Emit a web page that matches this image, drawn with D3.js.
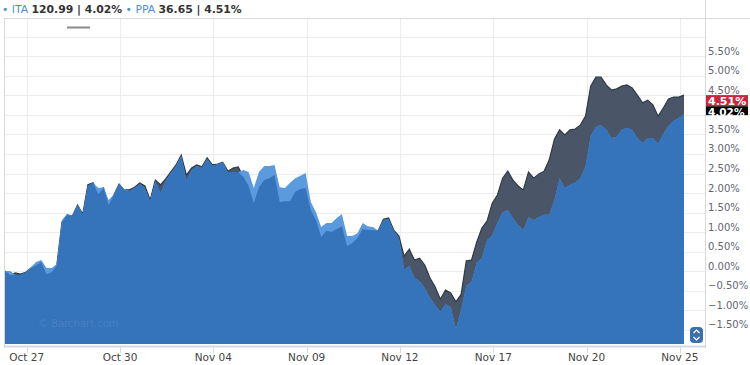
<!DOCTYPE html>
<html><head><meta charset="utf-8">
<script src="https://cdn.jsdelivr.net/npm/d3@7"></script>
<style>body{margin:0;background:#fff;} svg{display:block;font-family:"DejaVu Sans",Verdana,sans-serif;}</style>
</head><body><svg id="c" width="750" height="365"></svg>
<script>
// ---- data ----
const startDay = -0.7;      // trading-day index of first sample (Oct 27 = 0)
const stepDay = 1 / 6;      // sample spacing in trading days
const itaPct = [0.00,0.00,-0.10,-0.10,-0.03,0.10,0.23,0.28,0.08,0.08,
  0.18,1.31,1.46,1.41,1.69,1.46,2.18,2.26,2.13,2.15,
  1.82,1.97,2.23,2.10,2.05,2.13,2.23,2.13,1.79,2.31,
  2.00,2.31,2.51,2.69,2.95,2.33,2.59,2.69,2.64,2.87,
  2.69,2.74,2.79,2.54,2.54,2.54,2.59,2.54,2.13,2.54,
  2.69,2.69,2.72,2.15,2.13,2.26,2.38,2.44,2.51,1.77,
  1.51,1.13,1.23,1.23,1.36,1.46,0.90,0.90,0.97,1.23,
  1.15,1.13,1.03,1.31,1.33,1.03,0.85,0.03,0.13,-0.18,
  -0.26,-0.44,-0.69,-0.87,-1.05,-0.85,-0.92,-1.48,-1.00,-0.38,
  -0.28,0.21,0.33,0.79,0.92,1.23,1.51,1.56,1.36,1.18,
  1.05,1.38,1.31,1.38,1.44,1.44,1.82,2.38,2.13,2.21,
  2.26,2.38,2.67,3.46,3.69,3.74,3.62,3.41,3.44,3.62,
  3.67,3.62,3.41,3.28,3.41,3.41,3.26,3.51,3.72,3.85,
  3.92,4.02];
const ppaPct = [0.00,-0.10,-0.05,-0.08,-0.03,0.08,0.15,0.23,-0.08,-0.03,
  0.15,1.26,1.44,1.41,1.69,1.46,2.21,2.26,1.97,2.13,
  1.69,1.95,2.23,2.08,2.08,2.15,2.26,2.18,1.82,2.33,
  2.21,2.36,2.54,2.72,2.97,2.46,2.64,2.72,2.67,2.90,
  2.72,2.74,2.79,2.56,2.64,2.67,2.41,2.18,1.74,2.15,
  2.33,2.38,2.46,1.77,1.79,1.79,2.03,2.10,2.13,1.56,
  1.31,0.87,1.03,1.00,1.08,1.15,0.64,0.72,0.85,1.08,
  1.05,1.05,1.03,1.33,1.36,1.05,0.90,0.38,0.56,0.28,
  0.33,0.15,-0.18,-0.41,-0.72,-0.49,-0.56,-0.79,-0.60,0.26,
  0.28,0.74,1.10,1.28,1.74,1.95,2.38,2.56,2.33,2.18,
  2.08,2.54,2.38,2.49,2.56,2.85,3.38,3.62,3.49,3.62,
  3.64,3.74,3.97,4.74,4.97,4.97,4.77,4.64,4.67,4.74,
  4.77,4.69,4.51,4.31,4.38,4.26,3.97,4.18,4.41,4.46,
  4.46,4.51];
const tickDays = [0, 3, 6, 9, 12, 15, 18, 21];
const tickLabels = ["Oct 27","Oct 30","Nov 04","Nov 09","Nov 12","Nov 17","Nov 20","Nov 25"];
const yLabelTicks = [-1.5,-1,-0.5,0,0.5,1,1.5,2,2.5,3,3.5,4.5,5,5.5];
const yGridTicks = [-1.5,-1,-0.5,0,0.5,1,1.5,2,2.5,3,3.5,4,4.5,5,5.5,6];
const symbols = ["ITA", "PPA"];
const lastPrices = ["120.99", "36.65"];
const lastChanges = ["4.02%", "4.51%"];

// ---- layout ----
const svg = d3.select("#c");
const L = 4, R = 705, T = 19, B = 344;
const n = itaPct.length;
const dayAt = i => startDay + i * stepDay;
const x = d3.scaleLinear().domain([startDay, dayAt(n - 1)]).range([5, 684]);
const y = d3.scaleLinear().domain([-1.87, 6.46]).range([B, T]);

const rows = d3.range(n).map(i => ({t: dayAt(i), a: itaPct[i], p: ppaPct[i]}));

// grid
svg.append("g").selectAll("line").data(yGridTicks).join("line")
  .attr("x1", L).attr("x2", R).attr("y1", d => Math.round(y(d)) + 0.5).attr("y2", d => Math.round(y(d)) + 0.5)
  .attr("stroke", "#ececec");
svg.append("g").selectAll("line").data(tickDays).join("line")
  .attr("x1", d => Math.round(x(d)) + 0.5).attr("x2", d => Math.round(x(d)) + 0.5)
  .attr("y1", T).attr("y2", B).attr("stroke", "#ececec");

// areas
const areaOf = f => d3.area().x(d => x(d.t)).y0(B).y1(d => y(f(d)));
const lineOf = f => d3.line().x(d => x(d.t)).y(d => y(f(d)));
svg.append("path").datum(rows).attr("d", areaOf(d => d.p)).attr("fill", "#4a5667");
svg.append("path").datum(rows).attr("d", lineOf(d => d.p)).attr("fill", "none").attr("stroke", "#2f3b48").attr("stroke-width", 1.2);
svg.append("path").datum(rows).attr("d", areaOf(d => d.a)).attr("fill", "#5c9ade");
svg.append("path").datum(rows).attr("d", areaOf(d => Math.min(d.a, d.p))).attr("fill", "#3574bb");

// watermark
svg.append("text").attr("x", 38).attr("y", 327).attr("font-size", 10)
  .attr("fill", "rgba(255,255,255,0.10)").text("© Barchart.com");

// frame
svg.append("line").attr("x1", L + 0.5).attr("x2", L + 0.5).attr("y1", T).attr("y2", 348).attr("stroke", "#d9d9d9");
svg.append("line").attr("x1", L).attr("x2", 750).attr("y1", T - 0.5).attr("y2", T - 0.5).attr("stroke", "#d9d9d9");
svg.append("line").attr("x1", R + 0.5).attr("x2", R + 0.5).attr("y1", 0).attr("y2", 348).attr("stroke", "#d9d9d9");
svg.append("line").attr("x1", L).attr("x2", R).attr("y1", 346.5).attr("y2", 346.5).attr("stroke", "#d3dbe6").attr("stroke-width", 2);

// x axis
const xg = svg.append("g");
xg.selectAll("line").data(tickDays).join("line")
  .attr("x1", d => Math.round(x(d)) + 0.5).attr("x2", d => Math.round(x(d)) + 0.5)
  .attr("y1", 346).attr("y2", 353).attr("stroke", "#d3dbe6");
xg.selectAll("text").data(tickDays).join("text")
  .attr("x", d => x(d)).attr("y", 361).attr("text-anchor", "middle")
  .attr("font-size", 10.5).attr("fill", "#444").text((d, i) => tickLabels[i]);

// y labels
const fmt = d3.format(".2f");
svg.append("g").selectAll("text").data(yLabelTicks).join("text")
  .attr("x", 708).attr("y", d => y(d) - 1.5).attr("font-size", 10).attr("fill", "#5f6670")
  .text(d => fmt(d) + "%");

// end-value badges (PPA badge drawn over the ITA badge, as in the source)
const lastA = itaPct[n - 1], lastP = ppaPct[n - 1];
const bA = svg.append("g");
bA.append("rect").attr("x", 706).attr("y", y(lastA) - 8).attr("width", 42).attr("height", 9).attr("fill", "#000");
bA.append("text").attr("x", 708).attr("y", y(lastA) + 2).attr("font-size", 10.5).attr("font-weight", "bold").attr("fill", "#fff").text(lastChanges[0]);
const bP = svg.append("g");
bP.append("rect").attr("x", 706).attr("y", y(lastP)).attr("width", 42).attr("height", 11).attr("fill", "#c8283f");
bP.append("text").attr("x", 708).attr("y", y(lastP) + 9.5).attr("font-size", 11).attr("font-weight", "bold").attr("fill", "#fff").text(lastChanges[1]);

// scroll button
const sb = svg.append("g");
sb.append("rect").attr("x", 690).attr("y", 327).attr("width", 13).attr("height", 16).attr("rx", 4).attr("fill", "#3d6fae");
sb.append("path").attr("d", "M693.5,333 L696.5,330 L699.5,333 M693.5,337 L696.5,340 L699.5,337")
  .attr("fill", "none").attr("stroke", "#fff").attr("stroke-width", 1.2);

// top handle line
svg.append("line").attr("x1", 67).attr("x2", 90).attr("y1", 27.5).attr("y2", 27.5).attr("stroke", "#8a8a8a").attr("stroke-width", 2);

// legend
const lg = svg.append("text").attr("x", 2).attr("y", 13).attr("font-size", 10.8);
symbols.forEach((s, i) => {
  lg.append("tspan").attr("fill", "#4a8fd9").text((i ? " \u2022 " : "\u2022 ") + s + " ");
  lg.append("tspan").attr("fill", "#333").attr("font-weight", "bold").text(lastPrices[i] + " | " + lastChanges[i]);
});
</script></body></html>
